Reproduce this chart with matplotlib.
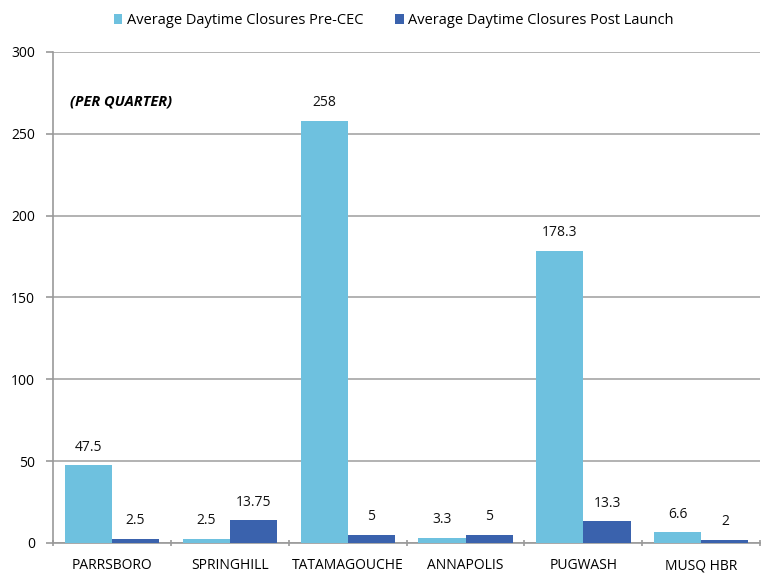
import matplotlib
matplotlib.use("Agg")
import matplotlib.pyplot as plt
import numpy as np

categories = ["PARRSBORO", "SPRINGHILL", "TATAMAGOUCHE", "ANNAPOLIS", "PUGWASH", "MUSQ HBR"]
pre_cec = [47.5, 2.5, 258, 3.3, 178.3, 6.6]
post_launch = [2.5, 13.75, 5, 5, 13.3, 2]
pre_labels = ["47.5", "2.5", "258", "3.3", "178.3", "6.6"]
post_labels = ["2.5", "13.75", "5", "5", "13.3", "2"]
series_names = ["Average Daytime Closures Pre-CEC", "Average Daytime Closures Post Launch"]

plt.rcParams['font.family'] = ['Open Sans', 'DejaVu Sans']

fig = plt.figure(figsize=(7.72, 5.75), dpi=100)
ax = fig.add_axes([0.0687, 0.0557, 0.916, 0.854])

x = np.arange(len(categories))
w = 0.4
c1 = "#6EC1DF"
c2 = "#3A62AD"
b1 = ax.bar(x - w/2, pre_cec, w, color=c1, label=series_names[0], zorder=3)
b2 = ax.bar(x + w/2, post_launch, w, color=c2, label=series_names[1], zorder=3)

fs = 10
for xi, v, s in zip(x, pre_cec, pre_labels):
    ax.text(xi - w/2, v + 6.5, s, ha='center', va='bottom', fontsize=fs, color='#111111')
for xi, v, s in zip(x, post_launch, post_labels):
    ax.text(xi + w/2, v + 6.5, s, ha='center', va='bottom', fontsize=fs, color='#111111')

ax.set_xlim(-0.5, len(categories) - 0.5)
ax.set_ylim(0, 300)
ax.set_yticks([0, 50, 100, 150, 200, 250, 300])
ax.set_xticks(x)
ax.set_xticklabels(categories, fontsize=fs)
ax.set_xticks(np.arange(-0.5, len(categories)), minor=True)
ax.tick_params(axis='x', which='major', length=0, pad=11)
ax.tick_params(axis='x', which='minor', length=5, color='#999999', width=1.2, direction='inout')
ax.tick_params(axis='y', length=5, color='#999999', width=1.2, labelsize=fs, pad=8)
ax.grid(axis='y', color='#A6A6A6', linewidth=1.2, zorder=0)
for sp in ['top', 'right']:
    ax.spines[sp].set_visible(False)
for sp in ['left', 'bottom']:
    ax.spines[sp].set_color('#999999')
    ax.spines[sp].set_linewidth(1.2)

ax.text(0.024, 0.9, "(PER QUARTER)", transform=ax.transAxes, fontsize=10.5,
        fontweight='bold', fontstyle='italic', ha='left', va='center')

fig.legend(handles=[b1, b2], labels=series_names, loc='upper center',
           bbox_to_anchor=(0.51, 1.0), ncol=2, frameon=False, fontsize=10.5,
           handlelength=0.6, handleheight=0.6, handletextpad=0.3, columnspacing=2.2)

fig.savefig("out.png", dpi=100)
